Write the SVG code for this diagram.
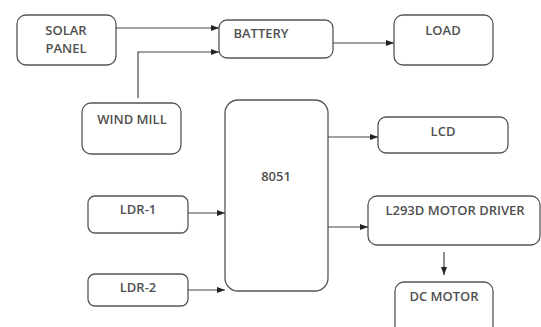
<svg xmlns="http://www.w3.org/2000/svg" width="541" height="327" viewBox="0 0 541 327">
<defs>
<style>
.box{fill:#fff;stroke:#555;stroke-width:1.3}
.t{font-family:"Open Sans","Liberation Sans",sans-serif;font-size:13px;font-weight:600;fill:#505050;text-anchor:middle}
.c{fill:none;stroke:#444;stroke-width:1.2}
</style>
<marker id="a" markerWidth="8" markerHeight="6" refX="8" refY="3" orient="auto" markerUnits="userSpaceOnUse">
<path d="M0,0 L8,3 L0,6 z" fill="#222"/>
</marker>
</defs>
<rect width="541" height="327" fill="#fff"/>
<g id="solar"><rect class="box" x="17" y="15" width="99" height="50" rx="9"/><text class="t" x="66" y="35">SOLAR</text><text class="t" x="66" y="53">PANEL</text></g>
<g id="battery"><rect class="box" x="219" y="20" width="114" height="38" rx="8"/><text class="t" x="261" y="38">BATTERY</text></g>
<g id="load"><rect class="box" x="394" y="15" width="99" height="50" rx="9"/><text class="t" x="443" y="35">LOAD</text></g>
<g id="windmill"><rect class="box" x="82" y="103" width="99" height="51" rx="9"/><text class="t" x="132" y="124">WIND MILL</text></g>
<g id="mcu"><rect class="box" x="225" y="100" width="103" height="191" rx="13"/><text class="t" x="276" y="181">8051</text></g>
<g id="ldr1"><rect class="box" x="88" y="196" width="100" height="37" rx="7"/><text class="t" x="138" y="214">LDR-1</text></g>
<g id="ldr2"><rect class="box" x="88" y="274" width="100" height="32" rx="7"/><text class="t" x="138" y="292">LDR-2</text></g>
<g id="lcd"><rect class="box" x="378" y="117" width="130" height="36" rx="8"/><text class="t" x="443" y="136">LCD</text></g>
<g id="driver"><rect class="box" x="368" y="196" width="172" height="49" rx="9"/><text class="t" x="455" y="215">L293D MOTOR DRIVER</text></g>
<g id="dcmotor"><rect class="box" x="395" y="282" width="98" height="60" rx="9"/><text class="t" x="444" y="301">DC MOTOR</text></g>
<g id="connectors">
<path class="c" d="M116,28 H219" marker-end="url(#a)"/>
<path class="c" d="M138,98 V52 H219" marker-end="url(#a)"/>
<path class="c" d="M333,43 H394" marker-end="url(#a)"/>
<path class="c" d="M188,213 H225" marker-end="url(#a)"/>
<path class="c" d="M188,290 H225" marker-end="url(#a)"/>
<path class="c" d="M328,137 H378" marker-end="url(#a)"/>
<path class="c" d="M328,227 H368" marker-end="url(#a)"/>
<path class="c" d="M444,252 V275" marker-end="url(#a)"/>
</g>
</svg>
